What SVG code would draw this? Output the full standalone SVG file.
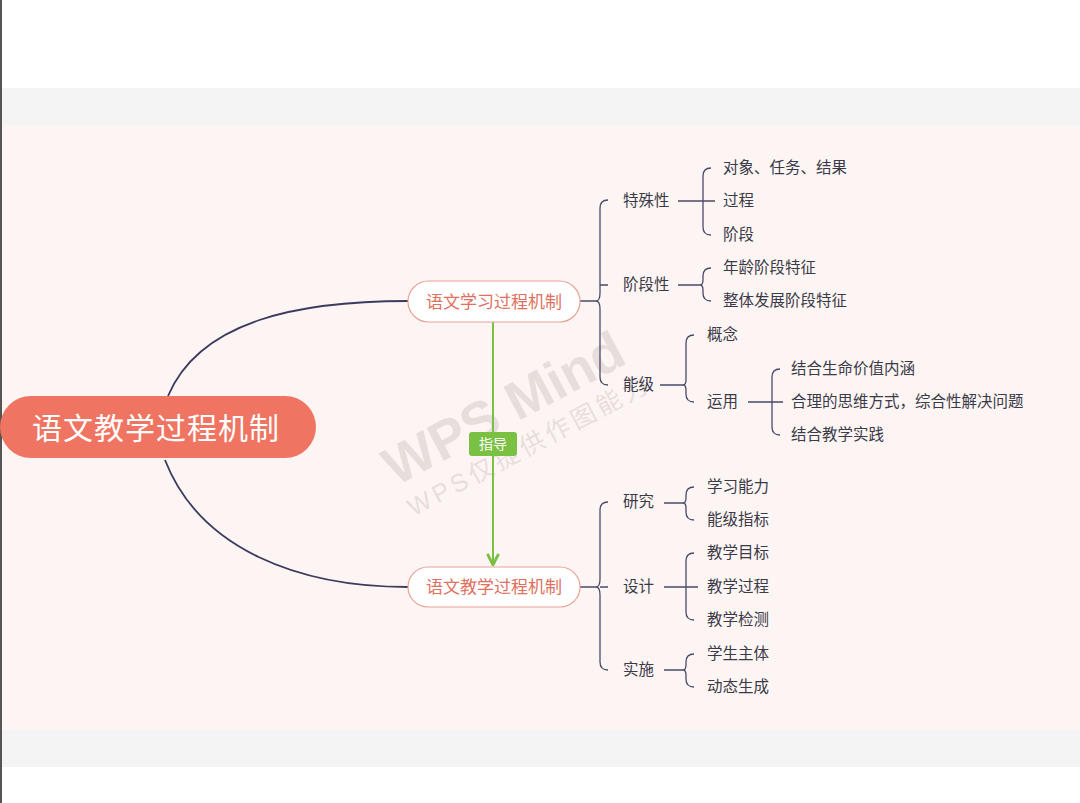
<svg xmlns="http://www.w3.org/2000/svg" width="1080" height="803" viewBox="0 0 1080 803">
<style>
text{font-family:"Liberation Sans","Noto Sans CJK SC",sans-serif}
.t{font-size:15.5px;fill:#3a3a48}
.ln{fill:none;stroke:#4a4a68;stroke-width:1.3}
.main{fill:none;stroke:#3c3a5e;stroke-width:1.8}
.sub{fill:#fff;stroke:#e8a295;stroke-width:1.2}
.st{font-size:17px;fill:#e07060;text-anchor:middle}
</style>
<defs><marker id="ar" viewBox="0 0 10 10" refX="9" refY="5" markerWidth="7" markerHeight="7" orient="auto"><path d="M1,1 L9,5 L1,9" fill="none" stroke="#7ac143" stroke-width="2"/></marker></defs>
<rect width="1080" height="803" fill="#fff"/>
<rect y="88" width="1080" height="37" fill="#f4f4f4"/>
<rect y="125" width="1080" height="605" fill="#fdf5f3"/>
<rect y="730" width="1080" height="37" fill="#f4f4f4"/>
<rect width="2" height="803" fill="#555"/>
<g id="watermark" fill="#8a7a78" opacity="0.18" transform="rotate(-28 510 420)">
<text x="510" y="425" font-size="54" font-weight="bold" text-anchor="middle">WPS Mind</text>
<text x="515" y="460" font-size="25" text-anchor="middle" letter-spacing="4">WPS仅提供作图能力</text>
</g>
<g id="connectors">
<path class="main" d="M168,396 C200,320 300,301 408,301"/>
<path class="main" d="M165,460 C200,550 300,587 408,587"/>
<path d="M493,322 L493,565" stroke="#7ac143" stroke-width="2" marker-end="url(#ar)"/>
<path class="ln" d="M580,301 H596 M608,200 Q600,200 600,208 V293 Q600,301 596,301 Q600,301 600,309 V377 Q600,385 608,385 M600,285 Q600,285 608,285"/>
<path class="ln" d="M678,201 H703 M711,168 Q703,168 703,176 V227 Q703,235 711,235 M703,201 H715"/>
<path class="ln" d="M678,285 H700 M711,268 Q703,268 703,276 V280 Q703,285 700,285 Q703,285 703,290 V293 Q703,301 711,301"/>
<path class="ln" d="M660,385 H683 M694,335 Q686,335 686,343 V380 Q686,385 683,385 Q686,385 686,390 V394 Q686,402 694,402"/>
<path class="ln" d="M748,402 H783 M780,369 Q772,369 772,377 V427 Q772,435 780,435"/>
<path class="ln" d="M580,587 H596 M608,502 Q600,502 600,510 V579 Q600,587 596,587 Q600,587 600,595 V662 Q600,670 608,670 M600,587 H608"/>
<path class="ln" d="M664,503 H683 M694,487 Q686,487 686,495 V498 Q686,503 683,503 Q686,503 686,508 V512 Q686,520 694,520"/>
<path class="ln" d="M664,587 H698 M694,553 Q686,553 686,561 V612 Q686,620 694,620"/>
<path class="ln" d="M664,670 H683 M694,654 Q686,654 686,662 V665 Q686,670 683,670 Q686,670 686,675 V679 Q686,687 694,687"/>
</g>
<g id="root"><rect x="0" y="396" width="316" height="62" rx="31" fill="#ef7461"/><text x="32" y="439" font-size="30" fill="#fff" letter-spacing="1">语文教学过程机制</text></g>
<g id="n1"><rect class="sub" x="408" y="281" width="172" height="41" rx="20.5"/><text class="st" x="494" y="308">语文学习过程机制</text></g>
<g id="n2"><rect class="sub" x="408" y="567" width="172" height="40" rx="20"/><text class="st" x="494" y="593">语文教学过程机制</text></g>
<g id="guide"><rect x="469" y="432" width="48" height="24" rx="3" fill="#7ac143"/><text x="493" y="449" font-size="14" fill="#fff" text-anchor="middle">指导</text></g>
<g id="labels">
<text class="t" x="623" y="206">特殊性</text>
<text class="t" x="623" y="290">阶段性</text>
<text class="t" x="623" y="390">能级</text>
<text class="t" x="723" y="173">对象、任务、结果</text>
<text class="t" x="723" y="206">过程</text>
<text class="t" x="723" y="240">阶段</text>
<text class="t" x="723" y="273">年龄阶段特征</text>
<text class="t" x="723" y="306">整体发展阶段特征</text>
<text class="t" x="707" y="340">概念</text>
<text class="t" x="707" y="407">运用</text>
<text class="t" x="791" y="374">结合生命价值内涵</text>
<text class="t" x="791" y="407">合理的思维方式，综合性解决问题</text>
<text class="t" x="791" y="440">结合教学实践</text>
<text class="t" x="623" y="507">研究</text>
<text class="t" x="623" y="592">设计</text>
<text class="t" x="623" y="675">实施</text>
<text class="t" x="707" y="492">学习能力</text>
<text class="t" x="707" y="525">能级指标</text>
<text class="t" x="707" y="558">教学目标</text>
<text class="t" x="707" y="592">教学过程</text>
<text class="t" x="707" y="625">教学检测</text>
<text class="t" x="707" y="659">学生主体</text>
<text class="t" x="707" y="692">动态生成</text>
</g>
</svg>
